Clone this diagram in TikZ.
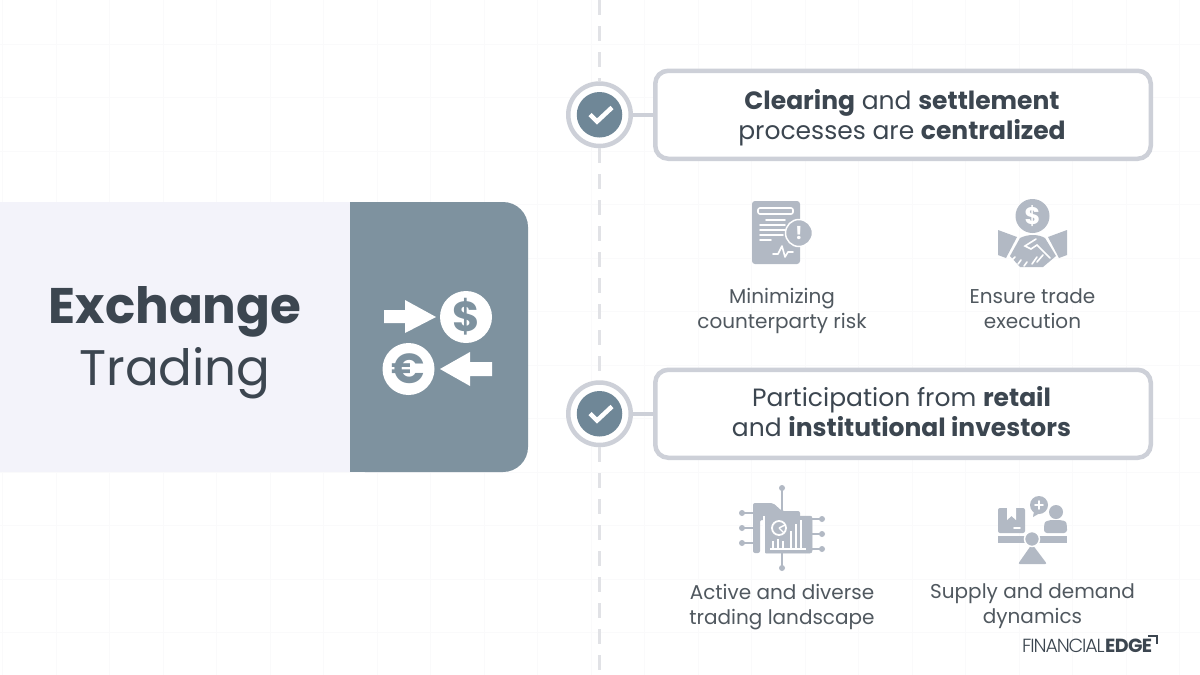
\documentclass[tikz,border=0pt]{standalone}
\usepackage{fontspec}
\setmainfont{Poppins}
\newfontfamily\logolight{Poppins Light}
\usetikzlibrary{positioning}
\definecolor{slate}{HTML}{7E929F}
\definecolor{slatedark}{HTML}{6F8797}
\definecolor{panel}{HTML}{F3F3FA}
\definecolor{frame}{HTML}{CDD0D8}
\definecolor{icon}{HTML}{B2B9C4}
\definecolor{ink}{HTML}{3C4650}
\definecolor{inklight}{HTML}{50585F}
\definecolor{faint}{HTML}{FAFAFB}
\definecolor{dashgrey}{HTML}{E1E2E6}
\tikzset{
  gridline/.style={faint,line width=0.8pt},
  spine/.style={dashgrey,line width=2.5pt,dash pattern=on 15pt off 11pt},
  linkline/.style={frame,line width=4pt},
  ringnode/.style={circle,draw=frame,line width=4.5pt,fill=white,minimum size=62.5pt,inner sep=0pt},
  dotnode/.style={circle,fill=slatedark,minimum size=45.5pt,inner sep=0pt},
  boxnode/.style={draw=frame,line width=4.5pt,fill=white,rounded corners=13pt,minimum width=495.5pt,minimum height=88pt,inner sep=0pt},
  headnode/.style={align=center,inner sep=0pt,text=ink,font=\fontsize{25}{30}\selectfont},
  labelnode/.style={align=center,text=inklight,inner sep=0pt,font=\fontsize{20}{25}\selectfont},
  titlenode/.style={inner sep=0pt,text=ink,font=\fontsize{50}{60}\selectfont},
  gapline/.style={white,line width=1.6pt,line cap=round},
  pinline/.style={icon,line width=2.4pt}
}
\begin{document}
\begin{tikzpicture}[x=1pt,y=-1pt]
\useasboundingbox (0,0) rectangle (1200,675);
\fill [white] (0,0) rectangle (1200,675);
% faint grid behind everything
\foreach \gx in {0,...,22} \draw [gridline] ({2.5+53.5*\gx},0) -- ({2.5+53.5*\gx},675);
\foreach \gy in {0,...,12} \draw [gridline] (0,{44+53.5*\gy}) -- (1200,{44+53.5*\gy});

% left panel
\fill [panel] (0,202) rectangle (350,472);
\fill [slate,rounded corners=25pt] (340,202) -- (528,202) -- (528,472) -- (340,472) -- cycle;
\fill [slate] (350,202) rectangle (380,472);
\fill [panel] (340,202) rectangle (350,472);
\node [titlenode] (exch) at (175,311.5) {\textbf{Exchange}};
\node [titlenode,below=10pt of exch] (trad) {Trading};

% dollar and euro icon
\node [circle,fill=white,minimum size=52pt,inner sep=0pt,text=slate,font=\fontsize{42}{42}\selectfont\bfseries] (dollar) at (466,317) {\$};
\node [circle,fill=white,minimum size=52pt,inner sep=0pt,text=slate,font=\fontsize{42}{42}\selectfont\bfseries] (euro) at (408.5,369) {€};
\fill [white] (384,310) -- (405,310) -- (405,300) -- (436,317) -- (405,333) -- (405,323) -- (384,323) -- cycle;
\fill [white] (492,362) -- (470,362) -- (470,352) -- (440,369) -- (470,386) -- (470,376) -- (492,376) -- cycle;

% dashed spine and the two rows
\coordinate (spinetop) at (599.5,0);
\coordinate (spineend) at (599.5,675);
\node [ringnode] (ringa) at (599.5,114.75) {};
\node [ringnode] (ringb) at (599.5,413.75) {};
\draw [spine] (spinetop) -- (ringa);
\draw [spine] (ringa) -- (ringb);
\draw [spine] (ringb) -- (spineend);
\node [dotnode] (dota) at (ringa) {};
\node [dotnode] (dotb) at (ringb) {};
\draw [white,line width=4.5pt] (590,114.5) -- (597,121.5) -- (612,107.5);
\draw [white,line width=4.5pt] (590,413.5) -- (597,420.5) -- (612,406.5);
\node [boxnode] (boxa) at (903,114.75) {};
\node [boxnode] (boxb) at (903,413.75) {};
\draw [linkline] (ringa) -- (boxa);
\draw [linkline] (ringb) -- (boxb);
\node [headnode] (heada) at (902,117.5) {\textbf{Clearing} and \textbf{settlement}\\processes are \textbf{centralized}};
\node [headnode] (headb) at (901.5,412) {Participation from \textbf{retail}\\and \textbf{institutional investors}};

% labels
\node [labelnode] (riska) at (782,311) {Minimizing\\counterparty risk};
\node [labelnode] (trade) at (1032.5,308.5) {Ensure trade\\execution};
\node [labelnode] (activ) at (782,607) {Active and diverse\\trading landscape};
\node [labelnode] (suppl) at (1032.5,606.5) {Supply and demand\\dynamics};

% document icon
\fill [icon,rounded corners=3pt] (752,201) rectangle (800,264);
\draw [gapline,rounded corners=2pt] (758,208) rectangle (793,214);
\draw [gapline] (766,220) -- (785,220);
\draw [gapline] (760,225) -- (785,225);
\draw [gapline] (760,230) -- (785,230);
\draw [gapline] (760,235) -- (783,235);
\draw [gapline] (760,240) -- (771,240);
\draw [gapline,line join=round] (773,254) -- (778,254) -- (782,246) -- (785,257) -- (788,252) -- (793,252);
\node [circle,fill=icon,draw=white,line width=1.5pt,minimum size=27pt,inner sep=0pt,text=white,font=\fontsize{18}{18}\selectfont\bfseries] (alert) at (799,233) {!};

% handshake icon
\node [circle,fill=icon,minimum size=34pt,inner sep=0pt,text=white,font=\fontsize{24}{24}\selectfont\bfseries] (coin) at (1032.5,216) {\$};
\fill [icon] (998,230) -- (1017,237) -- (1006,258) -- (998,255) -- cycle;
\fill [icon] (1067,230) -- (1048,237) -- (1059,258) -- (1067,255) -- cycle;
\fill [icon] (1010,256) -- (1020,238) .. controls (1028,234) and (1038,234) .. (1045,238) -- (1056,256) -- (1043,267) -- (1020,267) -- cycle;
\draw [gapline] (1036,239) -- (1025,246) -- (1031,249) -- (1037,245) -- (1050,258);
\draw [gapline] (1043,255) -- (1037,262);
\draw [gapline] (1037,257) -- (1032,264);
\draw [gapline] (1015,257) -- (1012,260);
\draw [gapline] (1021,260) -- (1018,264);
\draw [gapline] (1027,262) -- (1024,266);

% chip icon
\foreach \py in {513,528,543} {
  \draw [pinline] (742,\py) -- (753,\py);
  \fill [icon] (742,\py) circle (3);
}
\foreach \py in {519,534,549} {
  \draw [pinline] (812,\py) -- (822,\py);
  \fill [icon] (822,\py) circle (3);
}
\draw [pinline] (782,488) -- (782,512);
\fill [icon] (782,488) circle (3);
\draw [pinline] (782,553) -- (782,568);
\fill [icon] (782,568) circle (3);
\fill [icon,rounded corners=2pt] (753,503) -- (773,503) -- (782,511) -- (800,511) -- (800,520) -- (760,520) -- (760,553) -- (753,553) -- cycle;
\draw [icon,fill=icon,rounded corners=2pt,line width=0.5pt] (764,516) rectangle (812,553);
\draw [white,line width=1.4pt] (764,516) -- (764,553);
\draw [white,line width=1.8pt] (779,528) circle (7);
\draw [white,line width=1.4pt] (779,528) -- (785,525);
\draw [white,line width=1.4pt] (779,528) -- (784,533);
\draw [white,line width=1.6pt] (770,549) -- (806,549);
\foreach \bx/\bt in {773/541,778/539,783/541,791/531,796/524,801/520} \draw [white,line width=1.8pt] (\bx,549) -- (\bx,\bt);

% supply and demand icon
\fill [icon,rounded corners=2pt] (998,508) rectangle (1025,533);
\fill [white] (1007,508) -- (1016,508) -- (1016,520) -- (1011.5,516) -- (1007,520) -- cycle;
\draw [gapline] (1014,528) -- (1020,528);
\fill [icon] (998,536) rectangle (1067,543);
\fill [icon,rounded corners=2pt] (1018,564) -- (1032,544) -- (1047,564) -- cycle;
\node [circle,fill=icon,draw=white,line width=1.5pt,minimum size=15pt,inner sep=0pt] (pivot) at (1032,539) {};
\fill [icon] (1056,512) circle (7);
\fill [icon,rounded corners=3pt] (1044,533) -- (1044,526) .. controls (1045,521) and (1050,520) .. (1056,520) .. controls (1062,520) and (1066,521) .. (1067,526) -- (1067,533) -- cycle;
\fill [icon] (1039,505) circle (9);
\fill [icon] (1034,511) -- (1033,517) -- (1040,513) -- cycle;
\draw [gapline] (1035,505) -- (1043,505);
\draw [gapline] (1039,501) -- (1039,509);

% logo
\node [inner sep=0pt,anchor=base west,text=ink,font=\fontsize{19}{19}\logolight] (finlogo) at (1022,652) {\addfontfeature{LetterSpace=-6}FINANCIAL};
\node [inner sep=0pt,text=ink,font=\fontsize{19}{19}\selectfont\bfseries,anchor=base west] (edgelogo) at (finlogo.base east) {\addfontfeature{LetterSpace=-3}EDGE};
\draw [ink,line width=1.5pt] (1148,636) -- (1157,636) -- (1157,644);
\end{tikzpicture}
\end{document}
